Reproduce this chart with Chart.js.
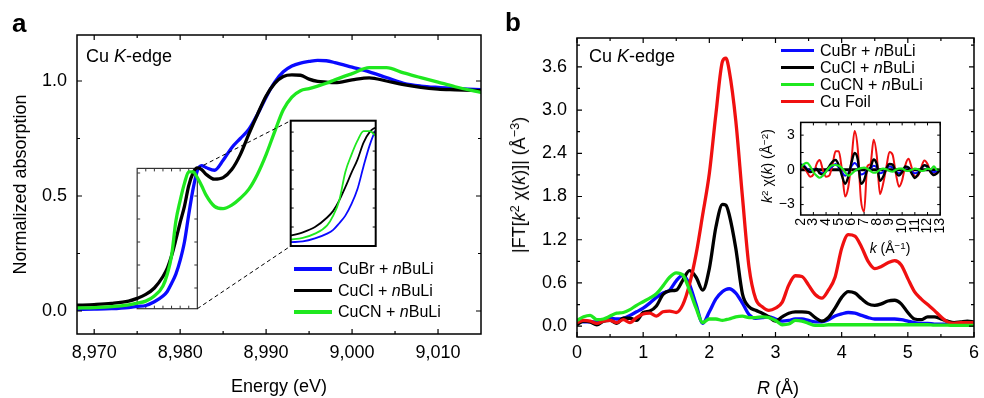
<!DOCTYPE html>
<html><head><meta charset="utf-8">
<script src="https://cdn.jsdelivr.net/npm/chart.js@4.4.1/dist/chart.umd.min.js"></script>
<style>
html,body{margin:0;padding:0;background:#fff;}
#wrap{position:relative;width:984px;height:398px;overflow:hidden;font-family:'Liberation Sans',Arial,Helvetica,sans-serif;color:#000;}
canvas{position:absolute;}
.t{position:absolute;white-space:nowrap;line-height:1;z-index:5;}
.c{transform:translate(-50%,-50%);}
.r{transform:translate(-50%,-50%) rotate(-90deg);}
sup{font-size:70%;line-height:0;vertical-align:0;position:relative;top:-0.45em;}
.ln{position:absolute;z-index:5;}
</style></head><body>
<div id="wrap">
<canvas id="ca" width="490" height="398" style="left:0;top:0;width:490px;height:398px"></canvas>
<canvas id="cai" width="93" height="133" style="left:287px;top:117px;width:93px;height:133px"></canvas>
<canvas id="cb" width="494" height="398" style="left:490px;top:0;width:494px;height:398px"></canvas>
<canvas id="cbi" width="205" height="155" style="left:755px;top:108px;width:205px;height:155px"></canvas>

<div class="t" style="left:12px;top:10px;font-size:26px;font-weight:bold;">a</div>
<div class="t" style="left:505px;top:9px;font-size:26px;font-weight:bold;">b</div>
<div class="t" style="left:86px;top:47px;font-size:18px;">Cu <i>K</i>-edge</div>
<div class="t" style="left:589px;top:47px;font-size:18px;">Cu <i>K</i>-edge</div>
<div class="t c" style="left:778px;top:388px;font-size:18px;"><i>R</i> (Å)</div>
<div class="t r" style="left:519px;top:185px;font-size:18px;">|FT[<i>k</i><sup>2</sup> χ(<i>k</i>)]| (Å<sup>−3</sup>)</div>
<div class="t r" style="left:767px;top:166px;font-size:14px;"><i>k</i><sup>2</sup> χ(<i>k</i>) (Å<sup>−2</sup>)</div>
<div class="t c" style="left:890px;top:248px;font-size:14px;"><i>k</i> (Å<sup>−1</sup>)</div>
<div id="legA"></div>
<div id="legB"></div>
</div>
<script>
// ---------- Panel a: XANES ----------
const energy = [8968, 8970, 8972, 8974, 8975, 8976, 8977, 8978, 8978.5, 8979, 8979.5, 8980, 8980.5, 8981, 8981.5, 8982, 8982.5, 8983, 8984, 8985, 8986, 8987, 8988, 8989, 8990, 8991, 8992, 8993, 8994, 8995, 8996, 8997, 8998, 9000, 9002, 9004, 9006, 9008, 9010, 9012, 9015];
const absCuBr = [0.007, 0.008, 0.010, 0.015, 0.020, 0.024, 0.040, 0.065, 0.085, 0.12, 0.16, 0.22, 0.30, 0.42, 0.53, 0.61, 0.632, 0.624, 0.612, 0.655, 0.71, 0.75, 0.79, 0.855, 0.93, 0.995, 1.04, 1.065, 1.078, 1.085, 1.09, 1.088, 1.08, 1.06, 1.04, 1.015, 0.99, 0.978, 0.972, 0.968, 0.962];
const absCuCl = [0.025, 0.028, 0.033, 0.043, 0.055, 0.072, 0.10, 0.15, 0.185, 0.24, 0.31, 0.385, 0.455, 0.545, 0.60, 0.622, 0.615, 0.595, 0.573, 0.58, 0.615, 0.68, 0.77, 0.855, 0.935, 0.99, 1.02, 1.027, 1.025, 1.008, 0.998, 0.995, 0.993, 1.005, 1.014, 1.0, 0.984, 0.972, 0.965, 0.962, 0.958];
const absCuCN = [0.013, 0.015, 0.019, 0.027, 0.034, 0.043, 0.065, 0.109, 0.16, 0.24, 0.39, 0.48, 0.555, 0.605, 0.605, 0.58, 0.545, 0.505, 0.455, 0.445, 0.46, 0.49, 0.53, 0.595, 0.68, 0.78, 0.875, 0.93, 0.958, 0.967, 0.978, 0.99, 1.005, 1.032, 1.058, 1.058, 1.035, 1.015, 0.995, 0.975, 0.95];
const xTicksA = [8970, 8980, 8990, 9000, 9010];
const xTickLabelsA = ['8,970', '8,980', '8,990', '9,000', '9,010'];
const yTicksA = [0, 0.5, 1.0];
const yTickLabelsA = ['0.0', '0.5', '1.0'];

// ---------- Panel b: FT-EXAFS ----------
const rGrid = [0, 0.1, 0.2, 0.3, 0.4, 0.5, 0.6, 0.7, 0.8, 0.9, 1.0, 1.1, 1.2, 1.3, 1.4, 1.5, 1.6, 1.7, 1.8, 1.9, 2.0, 2.1, 2.2, 2.25, 2.3, 2.4, 2.5, 2.6, 2.7, 2.8, 2.9, 3.0, 3.1, 3.2, 3.3, 3.4, 3.5, 3.6, 3.7, 3.8, 3.9, 4.0, 4.1, 4.2, 4.3, 4.4, 4.5, 4.6, 4.7, 4.8, 4.9, 5.0, 5.1, 5.2, 5.3, 5.4, 5.5, 5.6, 5.7, 5.8, 5.9, 6.0];
const ftCuBr = [0.07, 0.06, 0.06, 0.06, 0.09, 0.11, 0.10, 0.11, 0.15, 0.20, 0.25, 0.32, 0.40, 0.46, 0.50, 0.63, 0.71, 0.58, 0.30, 0.04, 0.20, 0.38, 0.48, 0.51, 0.52, 0.46, 0.32, 0.16, 0.11, 0.12, 0.13, 0.10, 0.07, 0.08, 0.10, 0.10, 0.08, 0.06, 0.06, 0.09, 0.14, 0.17, 0.19, 0.18, 0.15, 0.12, 0.10, 0.10, 0.10, 0.10, 0.09, 0.07, 0.05, 0.04, 0.04, 0.03, 0.03, 0.03, 0.02, 0.02, 0.02, 0.02];
const ftCuCl = [0.02, 0.07, 0.06, 0.02, 0.07, 0.08, 0.04, 0.11, 0.11, 0.08, 0.19, 0.21, 0.28, 0.44, 0.49, 0.50, 0.64, 0.77, 0.68, 0.50, 0.80, 1.38, 1.69, 1.68, 1.55, 1.08, 0.45, 0.27, 0.22, 0.18, 0.13, 0.07, 0.13, 0.18, 0.20, 0.20, 0.19, 0.12, 0.07, 0.12, 0.25, 0.40, 0.48, 0.46, 0.38, 0.31, 0.29, 0.31, 0.35, 0.36, 0.31, 0.19, 0.10, 0.09, 0.13, 0.13, 0.10, 0.07, 0.05, 0.06, 0.07, 0.06];
const ftCuCN = [0.08, 0.13, 0.15, 0.09, 0.10, 0.14, 0.18, 0.19, 0.23, 0.29, 0.34, 0.39, 0.45, 0.56, 0.68, 0.74, 0.71, 0.50, 0.25, 0.05, 0.10, 0.10, 0.08, 0.09, 0.10, 0.13, 0.14, 0.12, 0.12, 0.13, 0.12, 0.08, 0.02, 0.03, 0.08, 0.07, 0.04, 0.01, 0.01, 0.02, 0.02, 0.02, 0.02, 0.02, 0.02, 0.02, 0.02, 0.02, 0.02, 0.02, 0.02, 0.02, 0.02, 0.02, 0.02, 0.015, 0.015, 0.015, 0.01, 0.01, 0.01, 0.01];
const ftCuFoil = [0.05, 0.08, 0.07, 0.04, 0.07, 0.08, 0.05, 0.09, 0.05, 0.12, 0.17, 0.18, 0.14, 0.20, 0.21, 0.19, 0.30, 0.58, 1.00, 1.55, 2.12, 2.95, 3.68, 3.72, 3.55, 2.85, 1.80, 0.82, 0.38, 0.27, 0.22, 0.25, 0.33, 0.57, 0.70, 0.69, 0.57, 0.44, 0.39, 0.50, 0.68, 1.08, 1.27, 1.25, 1.10, 0.90, 0.80, 0.83, 0.88, 0.91, 0.85, 0.66, 0.48, 0.38, 0.30, 0.22, 0.13, 0.06, 0.04, 0.05, 0.05, 0.05];
const xTicksB = [0, 1, 2, 3, 4, 5, 6];
const xTickLabelsB = ['0', '1', '2', '3', '4', '5', '6'];
const yTicksB = [0, 0.6, 1.2, 1.8, 2.4, 3.0, 3.6];
const yTickLabelsB = ['0.0', '0.6', '1.2', '1.8', '2.4', '3.0', '3.6'];

// ---------- Panel b inset: k2-weighted chi(k) ----------
const kGrid = [2, 2.25, 2.5, 2.75, 3, 3.25, 3.5, 3.75, 4, 4.25, 4.5, 4.75, 5, 5.25, 5.5, 5.75, 6, 6.25, 6.5, 6.75, 7, 7.25, 7.5, 7.75, 8, 8.25, 8.5, 8.75, 9, 9.25, 9.5, 9.75, 10, 10.25, 10.5, 10.75, 11, 11.25, 11.5, 11.75, 12, 12.25, 12.5, 12.75, 13];
const chiCuBr = [0.5, 0.4, 0.1, -0.1, 0.0, 0.1, -0.2, -0.3, -0.1, 0.1, 0.3, 0.5, 0.2, -0.2, -0.5, -0.3, 0.3, 0.6, 0.3, -0.4, -0.3, 0.0, 0.1, 0.35, 0.2, -0.3, -0.2, 0.1, 0.3, 0.2, -0.1, -0.3, -0.1, 0.2, 0.2, -0.1, -0.3, -0.2, 0.1, 0.4, 0.2, -0.1, -0.2, -0.1, 0.0];
const chiCuCl = [0.4, 0.3, 0.0, -0.2, -0.1, 0.1, -0.3, -0.4, -0.1, 0.3, 0.7, 0.85, 0.4, -0.5, -1.2, -0.6, 0.6, 1.45, 0.9, -1.2, -0.9, 0.0, 0.2, 0.9, 0.5, -0.95, -0.6, 0.1, 0.5, 0.45, -0.2, -0.5, -0.2, 0.3, 0.2, -0.3, -0.7, -0.4, 0.1, 0.4, 0.3, -0.2, -0.45, -0.3, 0.0];
const chiCuCN = [0.2, 0.5, 0.6, 0.3, -0.2, -0.5, -0.68, -0.5, -0.15, 0.2, 0.4, 0.42, 0.35, 0.15, -0.2, -0.5, -0.35, -0.1, 0.05, 0.15, 0.2, 0.1, -0.1, -0.25, -0.2, 0.0, 0.1, 0.05, -0.1, -0.15, 0.0, 0.1, 0.1, -0.05, -0.1, 0.0, 0.1, 0.05, -0.1, -0.05, 0.1, 0.05, 0.3, 0.0, 0.1];
const chiCuFoil = [0.3, 0.2, -0.2, -0.6, -0.4, 0.5, 0.85, 0.0, -0.6, -0.5, 0.4, 1.6, 1.6, 0.0, -2.3, -1.5, 0.8, 3.35, 1.8, -2.6, -3.6, 0.3, 0.5, 2.6, 1.2, -2.1, -1.2, 0.2, 1.55, 1.3, -0.3, -1.45, -0.9, 0.4, 0.95, 0.2, -0.6, -0.5, 0.2, 0.8, 0.5, -0.2, -0.4, -0.2, 0.1];
const xTicksK = [2, 3, 4, 5, 6, 7, 8, 9, 10, 11, 12, 13];
const xTickLabelsK = ['2', '3', '4', '5', '6', '7', '8', '9', '10', '11', '12', '13'];
const yTicksK = [-3, 0, 3];
const yTickLabelsK = ['\u22123', '0', '3'];

const seriesNames = ['CuBr + nBuLi', 'CuCl + nBuLi', 'CuCN + nBuLi', 'Cu Foil'];
const COLORS = ['#0a0aff', '#000000', '#1fe81f', '#f01010'];

// ---------- helpers ----------
const FONT = "'Liberation Sans', Arial, Helvetica, sans-serif";
Chart.defaults.font.family = FONT;
Chart.defaults.color = '#000';
function pts(xs, ys) { return xs.map((x, i) => ({ x: x, y: ys[i] })); }
function lineDS(label, xs, ys, color, width, order) {
  return { label, data: pts(xs, ys), borderColor: color, backgroundColor: color, borderWidth: width,
    pointRadius: 0, cubicInterpolationMode: 'monotone', fill: false, order, borderJoinStyle: 'round', borderCapStyle: 'round' };
}
function axis(min, max, ticks, labels, fitKey, fitVal, extra) {
  const o = {
    type: 'linear', min, max,
    afterBuildTicks: s => { s.ticks = ticks.map(v => ({ value: v })); },
    afterFit: s => { s[fitKey] = fitVal; },
    grid: { display: false, drawTicks: false }, border: { display: false },
    ticks: { autoSkip: false, color: '#000', font: { size: 18 }, callback: v => labels[ticks.indexOf(v)] }
  };
  return Object.assign(o, extra || {});
}

const framePlugin = {
  id: 'frame',
  beforeDraw(chart, args, o) {
    if (o.fill) {
      const a = chart.chartArea, ctx = chart.ctx;
      ctx.save(); ctx.fillStyle = o.fill; ctx.fillRect(a.left, a.top, a.right - a.left, a.bottom - a.top); ctx.restore();
    }
  },
  beforeDatasetsDraw(chart, args, o) {
    if (o.zeroLine) {
      const a = chart.chartArea, ctx = chart.ctx, p = chart.scales.y.getPixelForValue(0);
      ctx.save(); ctx.strokeStyle = '#000'; ctx.lineWidth = o.zeroLine;
      ctx.beginPath(); ctx.moveTo(a.left, p); ctx.lineTo(a.right, p); ctx.stroke(); ctx.restore();
    }
  },
  afterDatasetsDraw(chart, args, o) {
    const ctx = chart.ctx, a = chart.chartArea, x = chart.scales.x, y = chart.scales.y;
    ctx.save();
    ctx.strokeStyle = '#000';
    ctx.lineWidth = o.tickWidth || 1.2;
    ctx.beginPath();
    const xt = (vals, len) => (vals || []).forEach(v => {
      const p = x.getPixelForValue(v);
      ctx.moveTo(p, a.bottom); ctx.lineTo(p, a.bottom - len);
      ctx.moveTo(p, a.top); ctx.lineTo(p, a.top + len);
    });
    const yt = (vals, len) => (vals || []).forEach(v => {
      const p = y.getPixelForValue(v);
      ctx.moveTo(a.left, p); ctx.lineTo(a.left + len, p);
      ctx.moveTo(a.right, p); ctx.lineTo(a.right - len, p);
    });
    xt(o.xMajor, o.majorLen || 5); xt(o.xMinor, o.minorLen || 3);
    yt(o.yMajor, o.majorLen || 5); yt(o.yMinor, o.minorLen || 3);
    ctx.stroke();
    ctx.lineWidth = o.lineWidth || 1.5;
    ctx.strokeRect(a.left, a.top, a.right - a.left, a.bottom - a.top);
    ctx.restore();
  }
};

const zoomBoxPlugin = {
  id: 'zoomBox',
  beforeDatasetsDraw(chart, args, o) {
    const ctx = chart.ctx, x = chart.scales.x, y = chart.scales.y;
    const l = x.getPixelForValue(o.x0), r = x.getPixelForValue(o.x1), t = y.getPixelForValue(o.y1), b = y.getPixelForValue(o.y0);
    ctx.save();
    ctx.strokeStyle = '#333'; ctx.lineWidth = 1.2;
    ctx.strokeRect(l, t, r - l, b - t);
    ctx.beginPath();
    o.yTicks.forEach(v => { const p = y.getPixelForValue(v); ctx.moveTo(l, p); ctx.lineTo(l + 3, p); ctx.moveTo(r, p); ctx.lineTo(r - 3, p); });
    o.xTicks.forEach(v => { const p = x.getPixelForValue(v); ctx.moveTo(p, t); ctx.lineTo(p, t + 3); ctx.moveTo(p, b); ctx.lineTo(p, b - 3); });
    ctx.lineWidth = 1; ctx.stroke();
    ctx.restore();
  },
  afterDatasetsDraw(chart, args, o) {
    const ctx = chart.ctx, x = chart.scales.x, y = chart.scales.y;
    const r = x.getPixelForValue(o.x1), t = y.getPixelForValue(o.y1), b = y.getPixelForValue(o.y0);
    ctx.save();
    ctx.setLineDash([4, 3]); ctx.lineWidth = 1; ctx.strokeStyle = '#000';
    ctx.beginPath();
    ctx.moveTo(r, t); ctx.lineTo(o.to.left, o.to.top);
    ctx.moveTo(r, b); ctx.lineTo(o.to.left, o.to.bottom);
    ctx.stroke();
    ctx.restore();
  }
};

const noInteract = { legend: { display: false }, tooltip: { enabled: false } };

// ---------- Chart a ----------
new Chart(document.getElementById('ca'), {
  type: 'line',
  data: { datasets: [
    lineDS(seriesNames[0], energy, absCuBr, COLORS[0], 3.3, 2),
    lineDS(seriesNames[1], energy, absCuCl, COLORS[1], 3.3, 1),
    lineDS(seriesNames[2], energy, absCuCN, COLORS[2], 3.3, 0)
  ] },
  options: {
    responsive: false, animation: false, events: [],
    layout: { padding: { left: 0, top: 35, right: 9, bottom: 0 } },
    scales: {
      x: axis(8968, 9015, xTicksA, xTickLabelsA, 'height', 64, {
        title: { display: true, text: 'Energy (eV)', color: '#000', font: { size: 18 }, padding: { top: 0, bottom: 0 } } }),
      y: axis(-0.1, 1.2, yTicksA, yTickLabelsA, 'width', 77, {
        title: { display: true, text: 'Normalized absorption', color: '#000', font: { size: 18 }, padding: { top: 10, bottom: 0 } } })
    },
    plugins: Object.assign({}, noInteract, {
      frame: { xMajor: xTicksA, xMinor: [8975, 8985, 8995, 9005], yMajor: yTicksA, yMinor: [0.25, 0.75], lineWidth: 1.5 },
      zoomBox: { x0: 8975, x1: 8982, y0: 0.01, y1: 0.62,
        xTicks: [8976, 8977, 8978, 8979, 8980, 8981], yTicks: [0.1, 0.2, 0.3, 0.4, 0.5, 0.6],
        to: { left: 290.7, top: 120.7, bottom: 246 } }
    })
  },
  plugins: [framePlugin, zoomBoxPlugin]
});
(function () {
  const c = Chart.getChart('ca');
  c.options.scales.x.ticks.padding = 8;
  c.options.scales.y.ticks.padding = 10;
  c.update();
})();

// ---------- Chart a inset ----------
new Chart(document.getElementById('cai'), {
  type: 'line',
  data: { datasets: [
    lineDS(seriesNames[0], energy, absCuBr, COLORS[0], 1.8, 2),
    lineDS(seriesNames[1], energy, absCuCl, COLORS[1], 1.8, 1),
    lineDS(seriesNames[2], energy, absCuCN, COLORS[2], 1.8, 0)
  ] },
  options: {
    responsive: false, animation: false, events: [],
    layout: { padding: { left: 3.7, top: 3.7, right: 4.3, bottom: 4 } },
    scales: {
      x: { type: 'linear', min: 8975, max: 8982, display: false },
      y: { type: 'linear', min: 0.0, max: 0.66, display: false }
    },
    plugins: Object.assign({}, noInteract, {
      frame: { fill: '#fff', yMajor: [0.1, 0.2, 0.3, 0.4, 0.5, 0.6], majorLen: 3, lineWidth: 2, tickWidth: 1 }
    })
  },
  plugins: [framePlugin]
});

// ---------- Chart b ----------
new Chart(document.getElementById('cb'), {
  type: 'line',
  data: { datasets: [
    lineDS(seriesNames[0], rGrid, ftCuBr, COLORS[0], 3.3, 3),
    lineDS(seriesNames[1], rGrid, ftCuCl, COLORS[1], 3.3, 2),
    lineDS(seriesNames[2], rGrid, ftCuCN, COLORS[2], 3.3, 0),
    lineDS(seriesNames[3], rGrid, ftCuFoil, COLORS[3], 3.3, 1)
  ] },
  options: {
    responsive: false, animation: false, events: [],
    layout: { padding: { left: 0, top: 38, right: 5, bottom: 0 } },
    scales: {
      x: axis(0, 6, xTicksB, xTickLabelsB, 'height', 61),
      y: axis(-0.15, 4.0, yTicksB, yTickLabelsB, 'width', 87)
    },
    plugins: Object.assign({}, noInteract, {
      frame: { xMajor: xTicksB, xMinor: [0.5, 1.5, 2.5, 3.5, 4.5, 5.5], yMajor: yTicksB,
        yMinor: [0.3, 0.9, 1.5, 2.1, 2.7, 3.3, 3.9], lineWidth: 1.5 }
    })
  },
  plugins: [framePlugin]
});
(function () {
  const c = Chart.getChart('cb');
  c.options.scales.x.ticks.padding = 5;
  c.options.scales.y.ticks.padding = 10;
  c.update();
})();

// ---------- Chart b inset ----------
new Chart(document.getElementById('cbi'), {
  type: 'line',
  data: { datasets: [
    lineDS(seriesNames[3], kGrid, chiCuFoil, COLORS[3], 2, 3),
    lineDS(seriesNames[0], kGrid, chiCuBr, COLORS[0], 2, 2),
    lineDS(seriesNames[1], kGrid, chiCuCl, COLORS[1], 2.4, 1),
    lineDS(seriesNames[2], kGrid, chiCuCN, COLORS[2], 2.2, 0)
  ] },
  options: {
    responsive: false, animation: false, events: [],
    layout: { padding: { left: 0, top: 9.3, right: 7.3, bottom: 0 } },
    scales: {
      x: axis(2, 13, xTicksK, xTickLabelsK, 'height', 48, {}),
      y: axis(-3.9, 4.1, yTicksK, yTickLabelsK, 'width', 45.7, {})
    },
    plugins: Object.assign({}, noInteract, {
      frame: { fill: '#fff', zeroLine: 3, xMajor: xTicksK, yMajor: [-3, -1.5, 0, 1.5, 3], majorLen: 3, lineWidth: 1.5, tickWidth: 1 }
    })
  },
  plugins: [framePlugin]
});
(function () {
  const c = Chart.getChart('cbi');
  const x = c.options.scales.x, y = c.options.scales.y;
  x.ticks.font = { size: 14 }; x.ticks.padding = 3; x.ticks.minRotation = 90; x.ticks.maxRotation = 90;
  y.ticks.font = { size: 14 }; y.ticks.padding = 6;
  c.update();
})();

// ---------- legends (HTML text) ----------
function legend(id, names, colors, x0, len, tx, ys, size) {
  const host = document.getElementById(id);
  names.forEach((n, i) => {
    const ln = document.createElement('div');
    ln.className = 'ln';
    ln.style.cssText = `left:${x0}px;top:${ys[i] - 1.75}px;width:${len}px;height:3.5px;background:${colors[i]};`;
    host.appendChild(ln);
    const t = document.createElement('div');
    t.className = 't';
    t.style.cssText = `left:${tx}px;top:${ys[i] - size * 0.49}px;font-size:${size}px;`;
    t.innerHTML = n.replace('+ n', '+ <i>n</i>');
    host.appendChild(t);
  });
}
legend('legA', seriesNames.slice(0, 3), COLORS.slice(0, 3), 294, 38, 338, [269, 290.5, 312], 16);
legend('legB', seriesNames, COLORS, 781, 32.5, 820, [50.7, 67.7, 84.7, 101.7], 16);
</script>
</body></html>
